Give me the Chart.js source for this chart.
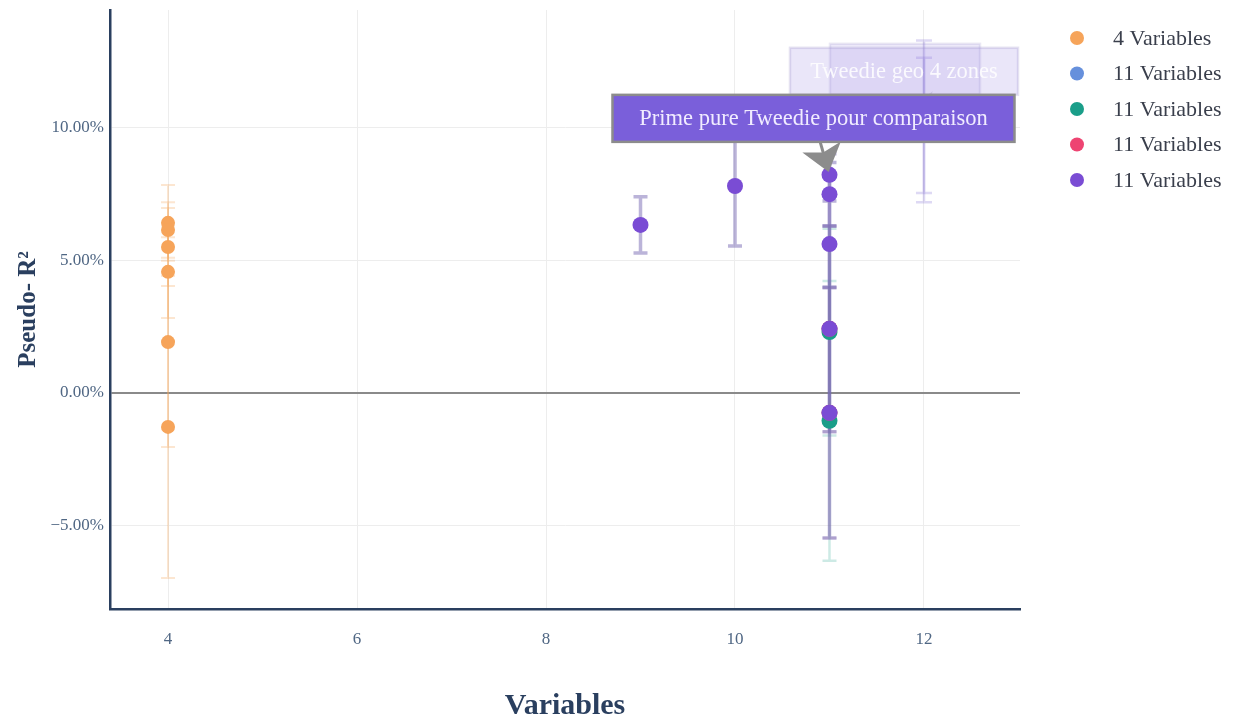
<!DOCTYPE html>
<html><head><meta charset="utf-8">
<script src="https://cdn.jsdelivr.net/npm/chart.js@4.4.1/dist/chart.umd.min.js"></script>
<style>html,body{margin:0;padding:0;background:#fff;}#wrap{width:1236px;height:724px;}</style>
</head><body><div id="wrap"><canvas id="c" width="1236" height="724"></canvas></div>
<script>
// ---- data ----
const xTicks = [4, 6, 8, 10, 12];
const yTicks = [-5, 0, 5, 10];
const legendLabels = ['4 Variables', '11 Variables', '11 Variables', '11 Variables', '11 Variables'];

const orangeX = [4, 4, 4, 4, 4, 4];
const orangeY = [6.42, 6.15, 5.51, 4.57, 1.92, -1.28];
const orangeErr = [1.43, 1.05, 1.47, 1.74, 3.96, 5.70];

const blueX = [11, 11];
const blueY = [2.42, -0.75];
const blueErr = [3.88, 4.72];

const tealX = [11, 11];
const tealY = [2.30, -1.05];
const tealErr = [3.90, 5.28];

const pinkX = [11, 11];
const pinkY = [2.42, -0.75];
const pinkErr = [3.88, 4.72];

const purpleX = [9, 10, 11, 11, 11, 11, 11];
const purpleY = [6.34, 7.81, 8.23, 7.50, 5.62, 2.42, -0.75];
const purpleErr = [1.06, 2.26, 0.80, 1.20, 1.62, 3.88, 4.72];

const ghostX = [12, 12];
const ghostY = [10.25, 10.10];
const ghostErr = [3.05, 2.55];

const annoTexts = ['', 'Tweedie geo 4 zones', 'Prime pure Tweedie pour comparaison'];
const annoX = [12, 12, 11];
const annoY = [10.25, 10.10, 8.23];

// ---- helpers ----
const pts = (xs, ys) => xs.map((x, i) => ({x: x, y: ys[i]}));
const SERIF = '"Liberation Serif", "Times New Roman", serif';

const datasets = [
  {label: legendLabels[0], data: pts(orangeX, orangeY), errors: orangeErr, backgroundColor: '#F6A45A', pointRadius: 7,
   errorColor: 'rgba(246,164,90,0.28)', errorWidth: 2, capW: 7, order: 5},
  {label: legendLabels[1], data: pts(blueX, blueY), errors: blueErr, backgroundColor: '#6690DC', pointRadius: 8,
   errorColor: 'rgba(102,144,220,0.18)', errorWidth: 2.5, capW: 7, order: 4},
  {label: legendLabels[2], data: pts(tealX, tealY), errors: tealErr, backgroundColor: '#1A9E89', pointRadius: 8,
   errorColor: 'rgba(26,158,137,0.22)', errorWidth: 2.5, capW: 7, order: 3},
  {label: legendLabels[3], data: pts(pinkX, pinkY), errors: pinkErr, backgroundColor: '#EE4472', pointRadius: 8,
   errorColor: 'rgba(238,68,114,0.12)', errorWidth: 2.5, capW: 7, order: 2},
  {label: legendLabels[4], data: pts(purpleX, purpleY), errors: purpleErr, backgroundColor: '#7A4CD4', pointRadius: 8,
   errorColor: 'rgba(120,105,180,0.50)', errorWidth: 3.5, capW: 7, order: 1},
  {label: '', data: pts(ghostX, ghostY), errors: ghostErr, backgroundColor: 'rgba(122,76,212,0.05)', pointRadius: 8,
   errorColor: 'rgba(125,105,210,0.25)', errorWidth: 2.5, capW: 8, order: 6}
];

const errorBars = {
  id: 'errorBars',
  beforeDatasetsDraw(chart) {
    const {ctx, chartArea: a, scales: {x, y}} = chart;
    ctx.save();
    ctx.beginPath(); ctx.rect(a.left, a.top, a.right - a.left, a.bottom - a.top); ctx.clip();
    [5, 0, 1, 2, 3, 4].forEach(i => {
      const ds = chart.data.datasets[i];
      ctx.strokeStyle = ds.errorColor; ctx.lineWidth = ds.errorWidth;
      ds.data.forEach((p, j) => {
        const px = x.getPixelForValue(p.x);
        const t = y.getPixelForValue(p.y + ds.errors[j]);
        const b = y.getPixelForValue(p.y - ds.errors[j]);
        ctx.beginPath();
        ctx.moveTo(px, t); ctx.lineTo(px, b);
        ctx.moveTo(px - ds.capW, t); ctx.lineTo(px + ds.capW, t);
        ctx.moveTo(px - ds.capW, b); ctx.lineTo(px + ds.capW, b);
        ctx.stroke();
      });
    });
    ctx.restore();
  }
};

const annoStyles = [
  {ax: -19, ay: -52, w: 150, h: 51, fill: 'rgba(150,130,225,0.16)', border: 'rgba(150,140,200,0.20)', text: 'rgba(255,255,255,0.9)', arrow: null},
  {ax: -20, ay: -54, w: 228, h: 47, fill: 'rgba(150,130,225,0.20)', border: 'rgba(150,140,200,0.25)', text: 'rgba(255,255,255,0.85)', arrow: 'rgba(130,130,150,0.25)'},
  {ax: -16, ay: -56.5, w: 402, h: 47, fill: '#7A5FDA', border: '#8C8C8C', text: '#F1ECFF', arrow: '#8C8C8C'}
];

const annotations = {
  id: 'annotations',
  afterDatasetsDraw(chart) {
    const {ctx, scales: {x, y}} = chart;
    ctx.save();
    annoTexts.forEach((txt, i) => {
      const s = annoStyles[i];
      const px = x.getPixelForValue(annoX[i]), py = y.getPixelForValue(annoY[i]);
      const cx = px + s.ax, cy = py + s.ay;
      if (s.arrow) {
        let dx = px - cx, dy = py - cy; const len = Math.hypot(dx, dy); dx /= len; dy /= len;
        const tipX = px - dx * 3, tipY = py - dy * 3;
        const startT = (s.h / 2) / Math.abs(dy);
        const sx = cx + dx * startT, sy = cy + dy * startT;
        const L = 26, W = 20;
        const nx = -dy, ny = dx;
        ctx.strokeStyle = s.arrow; ctx.fillStyle = s.arrow; ctx.lineWidth = 3;
        ctx.beginPath(); ctx.moveTo(sx, sy); ctx.lineTo(tipX - dx * 14, tipY - dy * 14); ctx.stroke();
        ctx.beginPath();
        ctx.moveTo(tipX, tipY);
        ctx.lineTo(tipX - dx * L + nx * W, tipY - dy * L + ny * W);
        ctx.lineTo(tipX - dx * L * 0.78, tipY - dy * L * 0.78);
        ctx.lineTo(tipX - dx * L - nx * W, tipY - dy * L - ny * W);
        ctx.closePath(); ctx.fill();
      }
      ctx.fillStyle = s.fill;
      ctx.fillRect(cx - s.w / 2, cy - s.h / 2, s.w, s.h);
      ctx.strokeStyle = s.border; ctx.lineWidth = 2.5;
      ctx.strokeRect(cx - s.w / 2, cy - s.h / 2, s.w, s.h);
      if (txt) {
        ctx.fillStyle = s.text; ctx.font = '22.5px ' + SERIF;
        ctx.textAlign = 'center'; ctx.textBaseline = 'middle';
        ctx.fillText(txt, cx, cy + 1);
      }
    });
    ctx.restore();
  }
};

const customLegend = {
  id: 'customLegend',
  afterDraw(chart) {
    const {ctx} = chart;
    ctx.save();
    legendLabels.forEach((lab, i) => {
      const yy = 38 + i * 35.5;
      ctx.fillStyle = chart.data.datasets[i].backgroundColor;
      ctx.beginPath(); ctx.arc(1077, yy, 7, 0, Math.PI * 2); ctx.fill();
      ctx.fillStyle = '#3a3f4c'; ctx.font = '22px ' + SERIF;
      ctx.textAlign = 'left'; ctx.textBaseline = 'middle';
      ctx.fillText(lab, 1113, yy + 1);
    });
    ctx.restore();
  }
};

new Chart(document.getElementById('c'), {
  type: 'scatter',
  data: {datasets: datasets.map(d => Object.assign({pointBorderWidth: 0, pointHoverRadius: d.pointRadius}, d))},
  options: {
    responsive: false, animation: false, events: [],
    layout: {padding: {top: 10, right: 216, left: 0, bottom: 0}},
    plugins: {legend: {display: false}, tooltip: {enabled: false}},
    scales: {
      x: {
        type: 'linear', min: 3.386, max: 13.016,
        afterBuildTicks: s => { s.ticks = xTicks.map(v => ({value: v})); },
        afterFit: s => { s.height = 115; s.paddingLeft = 0; s.paddingRight = 0; },
        grid: {color: '#ededed', lineWidth: 1, drawTicks: false},
        border: {color: '#2a3f5f', width: 2.5},
        ticks: {padding: 20, color: '#506784', font: {family: SERIF, size: 17}, callback: v => String(v)},
        title: {display: true, text: 'Variables', color: '#2a3f5f', font: {family: SERIF, size: 30, weight: 'bold'}, padding: {top: 0, bottom: 0}}
      },
      y: {
        type: 'linear', min: -8.15, max: 14.45,
        afterBuildTicks: s => { s.ticks = yTicks.map(v => ({value: v})); },
        afterFit: s => { s.width = 110; s.paddingTop = 0; s.paddingBottom = 0; },
        grid: {
          color: c => (c.tick && c.tick.value === 0) ? '#8a8a8a' : '#ededed',
          lineWidth: c => (c.tick && c.tick.value === 0) ? 2 : 1,
          drawTicks: false
        },
        border: {color: '#2a3f5f', width: 2.5},
        ticks: {padding: 6, color: '#506784', font: {family: SERIF, size: 17},
          callback: v => (v < 0 ? '\u2212' : '') + Math.abs(v).toFixed(2) + '%'},
        title: {display: true, text: 'Pseudo- R²', color: '#2a3f5f', font: {family: SERIF, size: 25, weight: 'bold'}, padding: {top: 14, bottom: 0}}
      }
    }
  },
  plugins: [errorBars, annotations, customLegend]
});
</script></body></html>
